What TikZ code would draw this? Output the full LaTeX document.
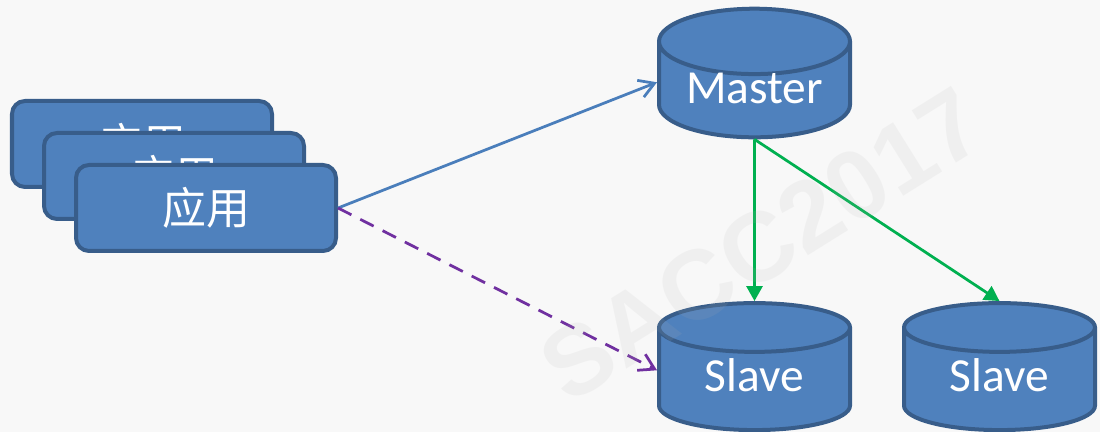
\documentclass[tikz,border=0pt]{standalone}
\usepackage{fontspec}
\setmainfont{Carlito}
\newfontfamily\cjk{Noto Sans CJK SC}
\newfontfamily\wmfont{Liberation Sans}
\usetikzlibrary{positioning,arrows.meta,shapes.geometric}
\definecolor{boxfill}{HTML}{4F81BD}
\definecolor{boxline}{HTML}{385D8A}
\definecolor{linkblue}{HTML}{4A7EBB}
\definecolor{linkpurple}{HTML}{7030A0}
\definecolor{linkgreen}{HTML}{00B050}
\definecolor{bgcolor}{HTML}{F8F8F8}
\tikzstyle{appbox} = [draw=boxline, fill=boxfill, line width=0.08cm, rounded corners=0.26cm, minimum width=5.2cm, minimum height=1.72cm, text=white, font=\cjk\fontsize{25}{25}\selectfont]
\tikzstyle{db} = [cylinder, shape border rotate=90, aspect=0.44, draw=boxline, line width=0.08cm, cylinder uses custom fill, cylinder body fill=boxfill, cylinder end fill=boxfill, minimum width=3.82cm, minimum height=2.54cm, text=white, text height=12pt, text depth=4pt, font=\fontsize{27}{27}\selectfont]
\tikzstyle{readlink} = [line width=0.055cm, -{Straight Barb[length=0.3cm,width=0.36cm]}]
\tikzstyle{synclink} = [line width=0.055cm, linkgreen, -{Triangle[length=0.3cm,width=0.32cm]}]

\begin{document}
\begin{tikzpicture}
\useasboundingbox (0,0) rectangle (22,8.64);
\fill[bgcolor] (0,0) rectangle (22,8.64);

% stacked application boxes
\node[appbox] (app1) at (2.84,5.76) {应用};
\node[appbox] (app2) at ([shift={(0.64,-0.64)}]app1.center) {应用};
\node[appbox] (app3) at ([shift={(0.64,-0.64)}]app2.center) {应用};

% databases
\node[db] (master) at (15.09,6.72) {Master};
\node[db] (slave1) at (15.09,0.96) {Slave};
\node[db] (slave2) at (19.99,0.96) {Slave};

\draw[readlink, linkblue] (app3.east) -- (master.172);
\draw[readlink, linkpurple, dashed, dash pattern=on 0.3cm off 0.2cm] (app3.east) -- (slave1.172);

\draw[synclink] (master.south) -- (slave1.north);
\draw[synclink] (master.south) -- (slave2.north);

% watermark
\node[rotate=32, text=gray!60, text opacity=0.12, font=\wmfont\bfseries\fontsize{56}{56}\selectfont] (mark) at (15.24,3.74) {SACC2017};
\end{tikzpicture}
\end{document}
